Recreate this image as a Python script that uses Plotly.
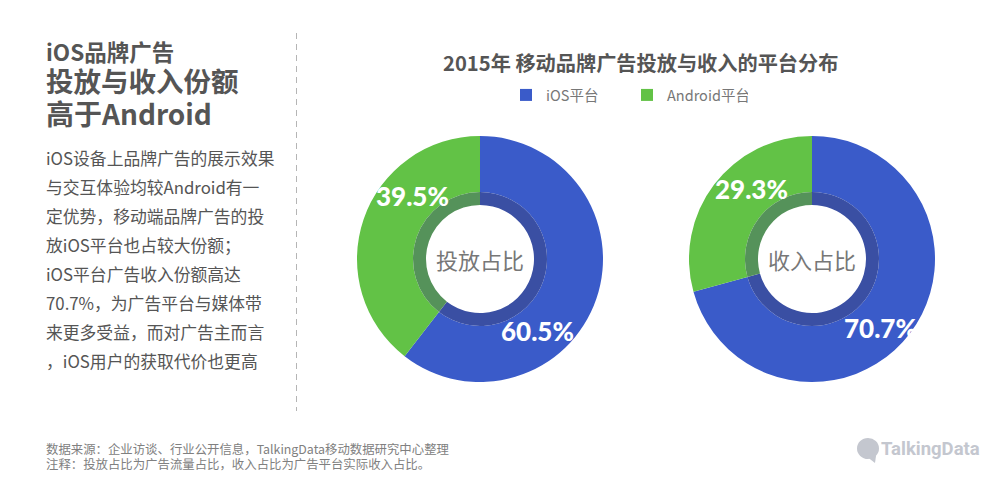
import plotly.graph_objects as go

# the page keeps an 8px body margin, so the figure starts at (8, 8) in the window
OFFSET = 8
W = 1000 - OFFSET
H = 477 - OFFSET
CJK = 'Noto Sans CJK SC'

platforms = ['iOS平台', 'Android平台']
placement = [60.5, 39.5]
revenue = [70.7, 29.3]
chart_names = ['投放占比', '收入占比']

colors = ['#3a5bc9', '#62c246']
ring_colors = ['#3a4fa3', '#55925a']

heading_lines = ['iOS品牌广告', '投放与收入份额', '高于Android']
body_lines = [
    'iOS设备上品牌广告的展示效果',
    '与交互体验均较Android有一',
    '定优势，移动端品牌广告的投',
    '放iOS平台也占较大份额；',
    'iOS平台广告收入份额高达',
    '70.7%，为广告平台与媒体带',
    '来更多受益，而对广告主而言',
    '，iOS用户的获取代价也更高',
]
footer_lines = [
    '数据来源：企业访谈、行业公开信息，TalkingData移动数据研究中心整理',
    '注释：投放占比为广告流量占比，收入占比为广告平台实际收入占比。',
]


# pixel positions from the top left of the window -> paper coordinates
def px_x(x):
    return (x - OFFSET) / W


def px_y(y):
    return 1 - (y - OFFSET) / H


def pie_domain(cx, cy, r):
    return dict(x=[px_x(cx - r), px_x(cx + r)], y=[px_y(cy + r), px_y(cy - r)])


def add_text(fig, x, y, text, size, color, anchor='left', family=CJK, bold=False, weight=None):
    font = dict(family=family, size=size, color=color)
    if weight:
        font['weight'] = weight
    fig.add_annotation(x=px_x(x), y=px_y(y), xref='paper', yref='paper', text='<b>%s</b>' % text if bold else text,
                       showarrow=False, xanchor=anchor, yanchor='middle', font=font)


fig = go.Figure()

centers = [(480, 259), (812, 259)]
label_spots = [[(537, 331), (412, 196)], [(880, 328), (751, 189)]]

for i, values in enumerate([placement, revenue]):
    cx, cy = centers[i]
    fig.add_trace(go.Pie(labels=platforms, values=values, sort=False, direction='clockwise', rotation=0,
                         hole=67 / 123, domain=pie_domain(cx, cy, 123), textinfo='none',
                         marker=dict(colors=colors, line=dict(width=0)), showlegend=i == 0))
    fig.add_trace(go.Pie(labels=platforms, values=values, sort=False, direction='clockwise', rotation=0,
                         hole=54 / 67, domain=pie_domain(cx, cy, 67), textinfo='none',
                         marker=dict(colors=ring_colors, line=dict(width=0)), showlegend=False))
    add_text(fig, cx, cy, chart_names[i], 22, '#777777', anchor='center')
    for (lx, ly), v in zip(label_spots[i], values):
        add_text(fig, lx, ly, '%.1f%%' % v, 26, '#ffffff', anchor='center', family='Lato', weight=900)

# left column
add_text(fig, 44, 51, heading_lines[0], 22.5, '#555555', bold=True)
add_text(fig, 44, 80, heading_lines[1], 27.5, '#555555', bold=True)
add_text(fig, 44, 113, heading_lines[2], 28, '#555555', bold=True)
for n, line in enumerate(body_lines):
    add_text(fig, 44, 158 + n * 29, line, 16.8, '#555555')
for n, line in enumerate(footer_lines):
    add_text(fig, 44, 449 + n * 15, line, 12.4, '#808080')

add_text(fig, 640, 63, '2015年 移动品牌广告投放与收入的平台分布', 20.2, '#555555', anchor='center', bold=True)

# logo
add_text(fig, 879, 449, 'TalkingData', 18.5, '#c4c7cf', family='Roboto', bold=True)
fig.add_shape(type='circle', xref='paper', yref='paper', x0=px_x(857), x1=px_x(879), y0=px_y(459), y1=px_y(438),
              fillcolor='#c4c7cf', line_width=0)
fig.add_shape(type='path', xref='paper', yref='paper', fillcolor='#c4c7cf', line_width=0,
              path='M %f %f L %f %f L %f %f Z' % (px_x(866), px_y(456), px_x(876), px_y(456), px_x(875), px_y(463)))

fig.add_shape(type='line', xref='paper', yref='paper', x0=px_x(296.5), x1=px_x(296.5), y0=px_y(33), y1=px_y(411),
              line=dict(color='#b5b5b5', width=1, dash='6px,5px'))

fig.update_layout(
    width=W, height=H, margin=dict(l=0, r=0, t=0, b=0),
    paper_bgcolor='#ffffff', plot_bgcolor='#ffffff',
    font=dict(family=CJK),
    legend=dict(orientation='h', x=px_x(506), y=px_y(95), xanchor='left', yanchor='middle',
                entrywidth=76, entrywidthmode='pixels', itemsizing='constant',
                font=dict(size=14.5, color='#777777'), bgcolor='rgba(0,0,0,0)'),
)

fig.write_html('out.html')
